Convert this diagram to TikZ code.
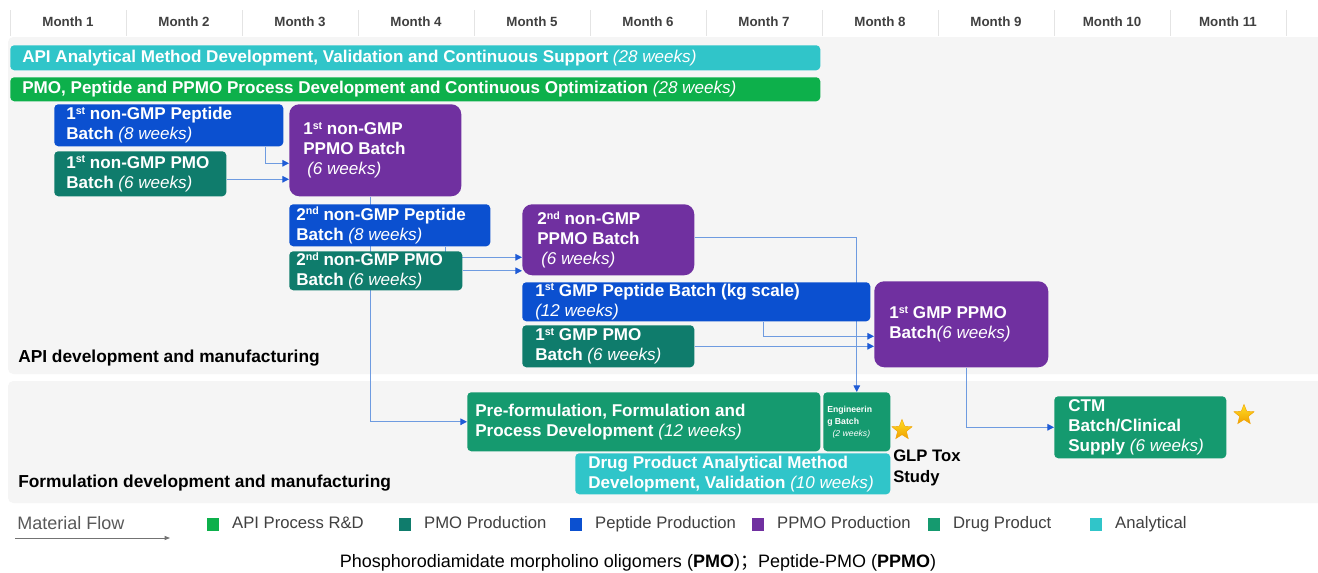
\documentclass[tikz,border=0pt]{standalone}
\usepackage{fontspec}
\setmainfont{Liberation Sans}
\newfontfamily\cjk{Noto Sans CJK SC}
\usepackage{tikz}
\usetikzlibrary{arrows.meta,calc,positioning,backgrounds,shapes.geometric}
\definecolor{anaCol}{HTML}{30C5C9}
\definecolor{rndCol}{HTML}{0DB04B}
\definecolor{pmoCol}{HTML}{0F7C6C}
\definecolor{pepCol}{HTML}{0B50D0}
\definecolor{ppmoCol}{HTML}{7030A0}
\definecolor{dpCol}{HTML}{159A6F}
\definecolor{panelCol}{HTML}{F5F5F5}
\definecolor{sepCol}{HTML}{E4E4E4}
\definecolor{monthCol}{HTML}{404040}
\definecolor{flowCol}{HTML}{6E9BE0}
\definecolor{tipCol}{HTML}{1F5BD6}
\definecolor{starCol}{HTML}{FFC93C}
\definecolor{starEdge}{HTML}{F0A000}
\pgfdeclarelayer{panel}
\pgfsetlayers{panel,background,main}
\newcommand{\wk}[1]{{\mdseries\itshape #1}}
\newcommand{\sups}[1]{\raisebox{4pt}{\fontsize{8}{8}\selectfont #1}}
\tikzset{
  box/.style={rectangle, rounded corners=3pt, inner sep=0pt, anchor=north west},
  bigbox/.style={box, rounded corners=7.5pt},
  boxtext/.style={text=white, font=\fontsize{12.8}{15}\selectfont\bfseries, align=left, inner sep=0pt, anchor=west},
  month/.style={font=\fontsize{10}{12}\selectfont\bfseries, text=monthCol},
  sep/.style={sepCol, line width=0.75pt},
  seclbl/.style={font=\fontsize{13}{15}\selectfont\bfseries, anchor=west, inner sep=0pt, align=left},
  flow/.style={flowCol, line width=0.75pt, -{Triangle[length=5pt,width=5pt,color=tipCol]}},
  legsq/.style={rectangle, minimum width=9pt, minimum height=9.75pt, inner sep=0pt},
  legtxt/.style={font=\fontsize{12.5}{14}\selectfont, text=monthCol, inner sep=0pt,
                 text height=9pt, text depth=2.6pt},
  starmark/.style={star, star points=5, star point ratio=2.3, minimum size=16pt, inner sep=0pt,
                   top color=starCol!60!yellow, bottom color=starEdge, draw=starEdge, line width=0.3pt},
}
% box by corner (px), size (px), left padding (px)
\newcommand{\taskbox}[8][]{%
  \node[box,#1,minimum width=#5*0.75pt,minimum height=#6*0.75pt] (#2) at (#3,#4) {};
  \node[boxtext] (#2-t) at ([xshift=#7*0.75pt]#2.west) {#8};}

\begin{document}
\begin{tikzpicture}[x=0.75pt,y=-0.75pt]
  \useasboundingbox (0,0) rectangle (1318,572);
  \begin{pgfonlayer}{panel}
    \fill[white] (0,0) rectangle (1318,572);
    \fill[panelCol, rounded corners=4pt] (8,37) rectangle (1330,374);
    \fill[panelCol, rounded corners=4pt] (8,381) rectangle (1330,503);
  \end{pgfonlayer}

  % month header
  \foreach \k in {0,...,11}{\draw[sep] ({10+116*\k},10) -- ({10+116*\k},36);}
  \foreach \i in {1,...,11}{\node[month] (m\i) at ({10+116*(\i-0.5)},22) {Month \i};}

  % API development and manufacturing
  \taskbox[fill=anaCol]{ana}{10}{45}{810}{25}{12}{API Analytical Method Development, Validation and Continuous Support \wk{(28 weeks)}}
  \taskbox[fill=rndCol]{rnd}{10}{77}{810}{24}{12}{PMO, Peptide and PPMO Process Development and Continuous Optimization \wk{(28 weeks)}}
  \taskbox[fill=pepCol]{pep1}{54}{104}{229}{42}{12}{1\sups{st} non-GMP Peptide\\Batch \wk{(8 weeks)}}
  \taskbox[fill=pmoCol]{pmo1}{54}{151}{172}{45}{12}{1\sups{st} non-GMP PMO\\Batch \wk{(6 weeks)}}
  \taskbox[bigbox,fill=ppmoCol]{ppmo1}{289}{104}{172}{92}{14}{1\sups{st} non-GMP\\PPMO Batch\\\hspace*{3pt}\wk{(6 weeks)}}
  \taskbox[fill=pepCol]{pep2}{289}{204}{201}{42}{7}{2\sups{nd} non-GMP Peptide\\Batch \wk{(8 weeks)}}
  \taskbox[fill=pmoCol]{pmo2}{289}{251}{173}{39}{7}{2\sups{nd} non-GMP PMO\\Batch \wk{(6 weeks)}}
  \taskbox[bigbox,fill=ppmoCol]{ppmo2}{522}{204}{172}{71}{15}{2\sups{nd} non-GMP\\PPMO Batch\\\hspace*{3pt}\wk{(6 weeks)}}
  \taskbox[fill=pepCol]{gpep}{522}{282}{348}{39}{13}{1\sups{st} GMP Peptide Batch (kg scale)\\\wk{(12 weeks)}}
  \taskbox[fill=pmoCol]{gpmo}{522}{325}{172}{42}{13}{1\sups{st} GMP PMO\\Batch \wk{(6 weeks)}}
  \taskbox[bigbox,fill=ppmoCol]{gppmo}{874}{281}{174}{86}{15}{1\sups{st} GMP PPMO\\Batch\wk{(6 weeks)}}
  \node[seclbl] (secapi) at (18,358) {API development and manufacturing};

  % Formulation development and manufacturing
  \taskbox[fill=dpCol]{pre}{467}{392}{353}{59}{8}{Pre-formulation, Formulation and\\Process Development \wk{(12 weeks)}}
  \node[box,fill=dpCol,minimum width=67*0.75pt,minimum height=59*0.75pt] (eng) at (823,392) {};
  \node[boxtext,font=\fontsize{6.5}{9}\selectfont\bfseries] (eng-t) at ([xshift=3pt]eng.west)
    {Engineerin\\g Batch\\\hspace*{4pt}\wk{(2 weeks)}};
  \taskbox[fill=anaCol]{dpa}{575}{453}{315}{41}{13}{Drug Product Analytical Method\\Development, Validation \wk{(10 weeks)}}
  \taskbox[fill=dpCol]{ctm}{1054}{396}{172}{62}{14}{CTM\\Batch/Clinical\\Supply \wk{(6 weeks)}}
  \node[starmark] (star1) at (902,430) {};
  \node[starmark] (star2) at (1244,415) {};
  \node[seclbl, font=\fontsize{12.5}{15.5}\selectfont\bfseries, anchor=north west] (glp) at (893,450) {GLP Tox\\Study};
  \node[seclbl] (secfrm) at (18,483) {Formulation development and manufacturing};

  % material flow
  \begin{scope}[on background layer]
    \coordinate (f1) at ($(pep1.south east)+(-18,0)$);
    \draw[flow] (f1) |- ($(ppmo1.west)+(0,13)$);
    \coordinate (f2) at ($(pmo1.east)+(0,5.5)$);
    \draw[flow] (f2) -- (f2 -| ppmo1.west);
    \draw[flow] ($(ppmo1.south)+(-5,0)$) |- (pre.west);
    \coordinate (f3) at ($(pep2.south east)+(-45,0)$);
    \draw[flow] (f3) |- ($(ppmo2.west)+(0,17.5)$);
    \draw[flow] (pmo2.east) -- (pmo2.east -| ppmo2.west);
    \draw[flow] ($(ppmo2.east)+(0,-2)$) -| (eng.north);
    \coordinate (f4) at ($(gpep.south east)+(-107,0)$);
    \draw[flow] (f4) |- ($(gppmo.west)+(0,12)$);
    \draw[flow] (gpmo.east) -- (gpmo.east -| gppmo.west);
    \draw[flow] ($(gppmo.south)+(5,0)$) |- (ctm.west);
  \end{scope}

  % legend
  \node[legtxt, font=\fontsize{13.5}{15}\selectfont, anchor=west, text=black!65] (mflow) at (17,525) {Material Flow};
  \coordinate (mf-a) at (15,538);
  \coordinate (mf-b) at (170,538);
  \draw[black!55, line width=0.6pt, -{Triangle[length=4pt,width=3pt]}] (mf-a) -- (mf-b);
  \foreach \x/\c/\t [count=\n] in {213/rndCol/API Process R\&D, 405/pmoCol/PMO Production,
      576/pepCol/Peptide Production, 758/ppmoCol/PPMO Production, 934/dpCol/Drug Product,
      1096/anaCol/Analytical}{
    \node[legsq, fill=\c] (sq\n) at (\x,524.5) {};
    \node[legtxt, right=9.5pt of sq\n] (lg\n) {\t};
  }
  \node[font=\fontsize{13.5}{15}\selectfont, inner sep=0pt] (cap) at (638,563)
    {Phosphorodiamidate morpholino oligomers (\textbf{PMO}){\cjk ；}Peptide-PMO (\textbf{PPMO})};
\end{tikzpicture}
\end{document}
